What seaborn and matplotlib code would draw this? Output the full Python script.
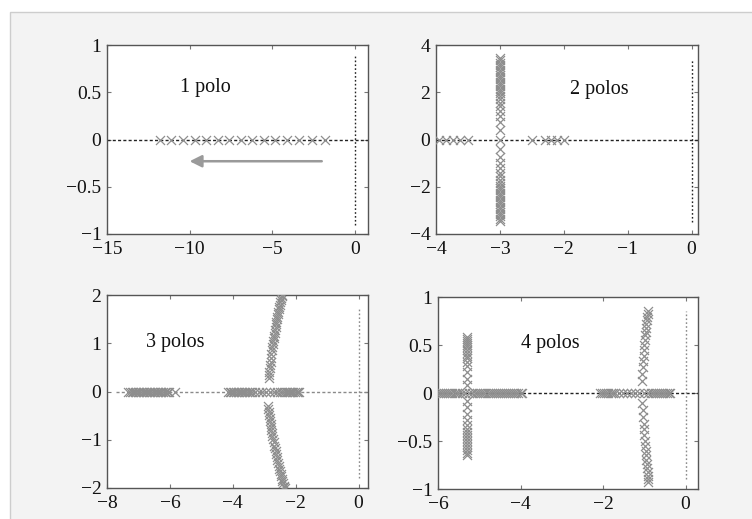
import numpy as np
import matplotlib
matplotlib.use("Agg")
import matplotlib.pyplot as plt
import seaborn as sns
from matplotlib.patches import Rectangle

# 1 polo: poles moving left along the real axis
p1_re = [-11.8, -11.1, -10.4, -9.7, -9.0, -8.3, -7.6, -6.9, -6.2, -5.5,
         -4.8, -4.1, -3.4, -2.6, -1.8]

# 2 polos
p2_axis_re = [-3.95, -3.84, -3.73, -3.62, -3.5, -3.0, -2.5, -2.3, -2.2, -2.1, -2.0]
p2_branch_re = -3.0
p2_branch_im = [0.4, 0.75, 1.0, 1.2, 1.4, 1.55, 1.7, 1.85, 1.95, 2.05, 2.15,
                2.25, 2.35, 2.45, 2.55, 2.65, 2.75, 2.85, 2.95, 3.05, 3.15,
                3.25, 3.35, 3.45,
                -0.4, -0.75, -1.0, -1.2, -1.4, -1.55, -1.7, -1.85, -1.95,
                -2.05, -2.15, -2.25, -2.35, -2.45, -2.55, -2.65, -2.75,
                -2.85, -2.95, -3.05, -3.15, -3.25, -3.35, -3.45]

# 3 polos
p3_axis_re = [-7.32, -7.27, -7.22, -7.17, -7.12, -7.07, -7.02, -6.97, -6.92,
              -6.87, -6.82, -6.77, -6.72, -6.67, -6.62, -6.57, -6.52, -6.47,
              -6.42, -6.37, -6.32, -6.27, -6.22, -6.17, -6.12, -6.07, -6.02,
              -5.84,
              -4.15, -4.1, -4.05, -4.0, -3.95, -3.9, -3.85, -3.8, -3.75, -3.7,
              -3.65, -3.6, -3.55, -3.5, -3.45, -3.4,
              -3.3, -3.18, -3.06, -2.94, -2.82, -2.7, -2.6, -2.5,
              -2.42, -2.37, -2.32, -2.27, -2.22, -2.17, -2.12, -2.07, -2.02,
              -1.97, -1.92, -1.88]
p3_branch_re = [-2.86, -2.85, -2.84, -2.83, -2.82, -2.8, -2.79, -2.77, -2.76,
                -2.74, -2.73, -2.71, -2.7, -2.68, -2.67, -2.65, -2.64, -2.62,
                -2.61, -2.59, -2.58, -2.56, -2.55, -2.53, -2.52, -2.5, -2.49,
                -2.47, -2.46, -2.44, -2.43,
                -2.89, -2.87, -2.86, -2.84, -2.83, -2.81, -2.8, -2.78, -2.77,
                -2.75, -2.74, -2.72, -2.7, -2.68, -2.66, -2.64, -2.62, -2.6,
                -2.58, -2.56, -2.54, -2.52, -2.5, -2.48, -2.46, -2.44, -2.42,
                -2.4, -2.38, -2.36, -2.35]
p3_branch_im = [0.27, 0.34, 0.4, 0.48, 0.55, 0.62, 0.7, 0.78, 0.85, 0.92,
                0.98, 1.04, 1.1, 1.16, 1.22, 1.28, 1.33, 1.39, 1.44, 1.5,
                1.55, 1.6, 1.65, 1.7, 1.75, 1.8, 1.85, 1.89, 1.93, 1.97, 2.0,
                -0.3, -0.36, -0.42, -0.48, -0.55, -0.62, -0.68, -0.74, -0.8,
                -0.86, -0.92, -0.98, -1.05, -1.12, -1.18, -1.24, -1.3, -1.36,
                -1.42, -1.48, -1.54, -1.6, -1.65, -1.7, -1.76, -1.81, -1.86,
                -1.9, -1.95, -1.98, -2.0]

# 4 polos
p4_axis_re = [-6.0, -5.95, -5.9, -5.85, -5.8, -5.75, -5.7, -5.65, -5.6, -5.55,
              -5.5, -5.42, -5.35, -5.25, -5.18,
              -5.1, -5.05, -5.0, -4.95, -4.9, -4.85, -4.8, -4.75, -4.7, -4.65,
              -4.6, -4.55, -4.5, -4.45, -4.4, -4.35, -4.3, -4.25, -4.2, -4.15,
              -4.1, -4.05, -4.0, -3.96,
              -2.07, -2.02, -1.97, -1.92, -1.87, -1.82, -1.77, -1.72,
              -1.62, -1.52, -1.42, -1.32, -1.22, -1.12, -1.02, -0.92,
              -0.85, -0.8, -0.75, -0.7, -0.65, -0.6, -0.55, -0.5, -0.45,
              -0.4, -0.37]
p4_left_re = -5.3
p4_left_im = [0.08, 0.15, 0.22, 0.28, 0.32, 0.36, 0.39, 0.42, 0.45, 0.48,
              0.5, 0.52, 0.54, 0.56, 0.58,
              -0.08, -0.15, -0.22, -0.28, -0.33, -0.37, -0.41, -0.44, -0.47,
              -0.5, -0.53, -0.56, -0.59, -0.62, -0.65]
p4_right_re = [-1.06, -1.05, -1.04, -1.03, -1.02, -1.01, -1.0, -0.99, -0.98,
               -0.97, -0.96, -0.95, -0.94, -0.93, -0.92, -0.91,
               -1.05, -1.04, -1.03, -1.02, -1.01, -1.0, -0.99, -0.98, -0.97,
               -0.96, -0.95, -0.94, -0.93, -0.92, -0.91, -0.9, -0.9]
p4_right_im = [0.12, 0.2, 0.27, 0.33, 0.39, 0.45, 0.5, 0.55, 0.6, 0.64, 0.68,
               0.72, 0.76, 0.79, 0.82, 0.85,
               -0.1, -0.18, -0.25, -0.32, -0.38, -0.44, -0.5, -0.55, -0.6,
               -0.65, -0.7, -0.74, -0.78, -0.82, -0.86, -0.9, -0.93]

# panel settings: label, label position, limits, ticks, zero-line extents
titles = ["1 polo", "2 polos", "3 polos", "4 polos"]
label_pos = [(-10.6, 0.55), (-1.9, 2.1), (-6.75, 1.02), (-3.98, 0.52)]
xlims = [(-15, 0.8), (-4, 0.1), (-8, 0.3), (-6, 0.3)]
ylims = [(-1, 1), (-4, 4), (-2, 2), (-1, 1)]
xticks = [[-15, -10, -5, 0], [-4, -3, -2, -1, 0], [-8, -6, -4, -2, 0], [-6, -4, -2, 0]]
yticks = [[-1, -0.5, 0, 0.5, 1], [-4, -2, 0, 2, 4], [-2, -1, 0, 1, 2], [-1, -0.5, 0, 0.5, 1]]
hline_x = [(-15, 0.8), (-4, 0.1), (-7.7, 0.3), (-6, 0.3)]
vline_y = [(-0.9, 0.9), (-3.5, 3.4), (-1.8, 1.7), (-0.9, 0.85)]
line_colors = [("#222222", "#222222"), ("#222222", "#222222"),
               ("#8a8a8a", "#8a8a8a"), ("#222222", "#8a8a8a")]

sns.set_theme(style="ticks")
plt.rcParams["font.family"] = ["Liberation Serif", "DejaVu Serif"]

fig = plt.figure(figsize=(7.52, 5.19), dpi=100)
fig.patch.set_facecolor("white")
fig.patches.append(Rectangle((10 / 752, -0.01), 1.0, 1 - 12 / 519 + 0.01,
                             transform=fig.transFigure, facecolor="#f3f3f3",
                             edgecolor="#cdcdcd", linewidth=1.0, zorder=-10))

W, H = 752, 519
boxes = [(107, 45, 368, 234), (436, 45, 698, 234),
         (107, 295, 368, 488), (438, 297, 698, 489)]
axes = []
for (l, t, r, b) in boxes:
    axes.append(fig.add_axes([l / W, 1 - b / H, (r - l) / W, (b - t) / H]))

pole_color = "#8e8e8e"
mk = dict(marker="x", color=pole_color, s=42, linewidth=0.9, zorder=3, legend=False)

data = [
    (p1_re, np.zeros(len(p1_re))),
    (p2_axis_re + [p2_branch_re] * len(p2_branch_im),
     [0.0] * len(p2_axis_re) + p2_branch_im),
    (p3_axis_re + p3_branch_re, [0.0] * len(p3_axis_re) + p3_branch_im),
    (p4_axis_re + [p4_left_re] * len(p4_left_im) + p4_right_re,
     [0.0] * len(p4_axis_re) + p4_left_im + p4_right_im),
]

def fmt(v):
    return f"{v:g}".replace("-", "\u2212")

for i, ax in enumerate(axes):
    ax.set_facecolor("white")
    hc, vc = line_colors[i]
    ax.plot(hline_x[i], [0, 0], color=hc, linestyle=(0, (2.2, 1.6)), lw=1.0, zorder=2)
    ax.plot([0, 0], vline_y[i], color=vc, linestyle=(0, (1.2, 1.6)), lw=1.0, zorder=2)
    xs, ys = data[i]
    sns.scatterplot(x=list(xs), y=list(ys), ax=ax, **mk)
    ax.set_xlim(*xlims[i])
    ax.set_ylim(*ylims[i])
    ax.set_xticks(xticks[i])
    ax.set_yticks(yticks[i])
    ax.set_yticklabels([fmt(v) for v in yticks[i]])
    ax.set_xticklabels([fmt(v) for v in xticks[i]])
    ax.tick_params(direction="in", length=3, width=0.8, color="#777777",
                   top=True, right=True, labelsize=14, labelcolor="#111111")
    ax.tick_params(axis="x", pad=5)
    ax.tick_params(axis="y", pad=4)
    for sp in ax.spines.values():
        sp.set_color("#555555")
        sp.set_linewidth(1.0)
    ax.text(label_pos[i][0], label_pos[i][1], titles[i], fontsize=14.5,
            ha="left", va="center", color="#111111")

# arrow showing the direction of motion of the pole
axes[0].annotate("", xy=(-10.0, -0.23), xytext=(-2.0, -0.23),
                 arrowprops=dict(arrowstyle="-|>", color="#9a9a9a", lw=1.8,
                                 mutation_scale=18, shrinkA=0, shrinkB=0))

fig.savefig("out.png", dpi=100)
